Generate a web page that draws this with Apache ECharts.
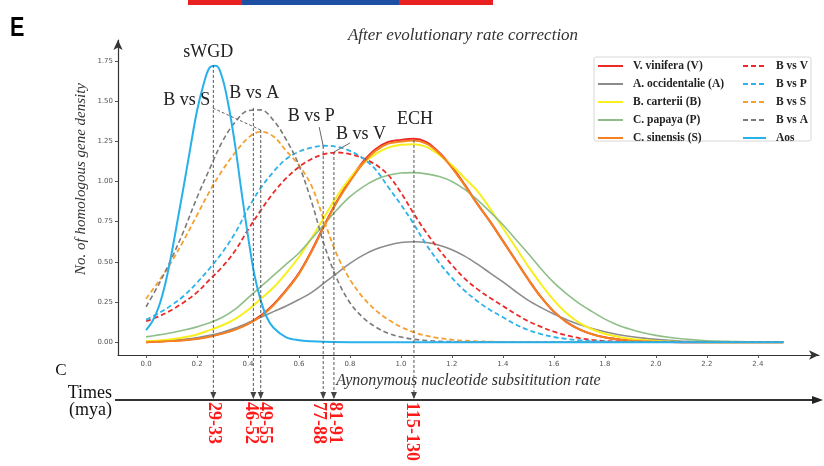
<!DOCTYPE html>
<html><head><meta charset="utf-8">
<script src="https://cdn.jsdelivr.net/npm/echarts@6/dist/echarts.min.js"></script>
<style>html,body{margin:0;padding:0;background:#fff}#c{width:824px;height:466px}</style>
</head><body><div id="c"></div>
<script>
const xs = [0,0.05,0.1,0.15,0.2,0.25,0.3,0.35,0.4,0.45,0.5,0.55,0.6,0.65,0.7,0.75,0.8,0.85,0.9,0.95,1.0,1.05,1.1,1.15,1.2,1.25,1.3,1.35,1.4,1.45,1.5,1.55,1.6,1.65,1.7,1.75,1.8,1.85,1.9,1.95,2.0,2.05,2.1,2.15,2.2,2.25,2.3,2.35,2.4,2.45,2.5];
const vinifera = [0,0.004,0.008,0.014,0.022,0.036,0.055,0.08,0.115,0.165,0.235,0.325,0.43,0.57,0.73,0.88,1.01,1.12,1.2,1.245,1.258,1.265,1.245,1.18,1.09,0.98,0.86,0.75,0.63,0.51,0.39,0.28,0.19,0.125,0.08,0.05,0.03,0.018,0.01,0.005,0.003,0.001,0,0,0,0,0,0,0,0,0];
const occidentalie = [0.005,0.008,0.012,0.018,0.027,0.042,0.062,0.088,0.12,0.155,0.19,0.225,0.265,0.31,0.37,0.43,0.49,0.54,0.578,0.603,0.62,0.625,0.62,0.603,0.575,0.535,0.485,0.43,0.375,0.315,0.26,0.215,0.175,0.14,0.11,0.085,0.065,0.048,0.035,0.025,0.017,0.011,0.007,0.004,0.002,0.001,0,0,0,0,0];
const carterii = [0.005,0.01,0.018,0.03,0.048,0.075,0.105,0.145,0.2,0.27,0.34,0.43,0.53,0.65,0.78,0.91,1.02,1.11,1.17,1.21,1.228,1.232,1.215,1.165,1.1,1.02,0.94,0.83,0.71,0.59,0.47,0.36,0.26,0.18,0.12,0.08,0.052,0.034,0.021,0.013,0.008,0.004,0.002,0.001,0,0,0,0,0,0,0];
const papaya = [0.033,0.045,0.058,0.075,0.095,0.12,0.155,0.205,0.275,0.345,0.415,0.485,0.555,0.645,0.735,0.825,0.905,0.965,1.01,1.038,1.052,1.055,1.047,1.03,1.0,0.95,0.885,0.81,0.73,0.64,0.55,0.455,0.37,0.3,0.24,0.19,0.143,0.107,0.08,0.058,0.042,0.03,0.021,0.014,0.009,0.006,0.004,0.002,0.001,0,0];
const sinensis = [0,0.003,0.007,0.012,0.02,0.034,0.053,0.078,0.112,0.16,0.23,0.32,0.425,0.565,0.725,0.875,1.0,1.11,1.19,1.235,1.248,1.255,1.235,1.175,1.085,0.975,0.858,0.748,0.628,0.508,0.388,0.278,0.19,0.124,0.079,0.049,0.029,0.017,0.009,0.005,0.002,0.001,0,0,0,0,0,0,0,0,0];
const bvsV = [0.13,0.16,0.2,0.25,0.31,0.39,0.47,0.57,0.7,0.82,0.93,1.02,1.09,1.14,1.17,1.18,1.17,1.145,1.105,1.04,0.93,0.8,0.68,0.575,0.48,0.395,0.33,0.275,0.225,0.175,0.13,0.095,0.065,0.042,0.025,0.014,0.007,0.004,0.002,0.001,0,0,0,0,0,0,0,0,0,0,0];
const bvsP = [0.14,0.18,0.23,0.29,0.37,0.46,0.56,0.68,0.83,0.96,1.06,1.14,1.185,1.21,1.222,1.215,1.19,1.145,1.075,0.965,0.855,0.735,0.605,0.495,0.4,0.32,0.255,0.2,0.155,0.11,0.075,0.05,0.032,0.02,0.012,0.007,0.004,0.002,0.001,0,0,0,0,0,0,0,0,0,0,0,0];
const bvsS = [0.27,0.38,0.5,0.64,0.79,0.94,1.07,1.18,1.27,1.31,1.28,1.19,1.1,0.97,0.75,0.54,0.39,0.28,0.2,0.14,0.095,0.062,0.04,0.025,0.015,0.009,0.005,0.003,0.001,0,0,0,0,0,0,0,0,0,0,0,0,0,0,0,0,0,0,0,0,0,0];
const bvsA = [0.22,0.36,0.52,0.7,0.9,1.08,1.25,1.37,1.44,1.445,1.38,1.26,1.1,0.87,0.6,0.39,0.245,0.155,0.095,0.055,0.032,0.018,0.01,0.005,0.003,0.001,0,0,0,0,0,0,0,0,0,0,0,0,0,0,0,0,0,0,0,0,0,0,0,0,0];
// Aos is narrow: read on a finer grid
const aosX = [0,0.025,0.05,0.075,0.1,0.125,0.15,0.175,0.2,0.225,0.25,0.275,0.3,0.325,0.35,0.375,0.4,0.425,0.45,0.475,0.5,0.55,0.6,0.65,0.7,0.8,1.0,1.5,2.0,2.5];
const aos = [0.075,0.13,0.22,0.36,0.55,0.77,0.99,1.22,1.44,1.6,1.71,1.72,1.64,1.46,1.22,0.93,0.66,0.42,0.26,0.15,0.09,0.03,0.012,0.005,0.002,0,0,0,0,0];

const seriesNames = ['V. vinifera (V)','A. occidentalie (A)','B. carterii (B)','C. papaya (P)','C. sinensis (S)','B vs V','B vs P','B vs S','B vs A','Aos'];
const seriesData = [vinifera, occidentalie, carterii, papaya, sinensis, bvsV, bvsP, bvsS, bvsA, aos];
const seriesX = [xs, xs, xs, xs, xs, xs, xs, xs, xs, aosX];

const xTicks = [0,0.2,0.4,0.6,0.8,1.0,1.2,1.4,1.6,1.8,2.0,2.2,2.4];
const xTickLabels = ['0.0','0.2','0.4','0.6','0.8','1.0','1.2','1.4','1.6','1.8','2.0','2.2','2.4'];
const yTicks = [0,0.25,0.5,0.75,1.0,1.25,1.5,1.75];
const yTickLabels = ['0.00','0.25','0.50','0.75','1.00','1.25','1.50','1.75'];

const peakLabels = ['sWGD','B vs A','B vs S','B vs P','B vs V','ECH'];
const peakX = [0.264,0.421,0.45,0.695,0.737,1.051];
const peakY = [1.725,1.457,1.32,1.22,1.183,1.258];
const myaLabels = ['29-33','46-52','49-55','77-88','81-91','115-130'];

// styles
const colors = ['#ec2a2a','#8c8c8c','#f7ef1e','#8fbf88','#f58220','#ec2a2a','#2db2ea','#f5a030','#7a7a7a','#28b0ea'];
const widths = [2,1.6,2,1.6,2,1.8,1.8,1.8,1.6,2];
const dashed = [false,false,false,false,false,true,true,true,true,false];
const labelOff = [[-5,-4],[1,-6],[-74,-21],[-12,-21],[27,-9],[1,-12]];
const connectors = [null,null,{dash:true,from:[-48,-22]},{dash:false,from:[-4,-19]},{dash:false,from:[16,-9]},null];
const myaOff = [0,-3,4,-5,1,-2];

const serif = 'Liberation Serif, Times New Roman, serif';
const chart = echarts.init(document.getElementById('c'), null, {renderer:'canvas'});

function lookup(v, ticks, labels){
  let bi=0, bd=1e9;
  ticks.forEach((t,i)=>{const d=Math.abs(t-v); if(d<bd){bd=d;bi=i;}});
  return labels[bi];
}

const series = seriesNames.map((n,i)=>({
  name:n, type:'line', symbol:'none', smooth:0.35, z: 2+i,
  data: seriesX[i].map((x,j)=>[x, seriesData[i][j]]),
  lineStyle:{color:colors[i], width:widths[i], type: dashed[i]?[5,3]:'solid'},
  itemStyle:{color:colors[i]}
}));

const legendText = {fontFamily:serif, fontWeight:'bold', fontSize:11.5, color:'#222', padding:[0,0,0,5]};
const legendCommon = {orient:'vertical', top:60, padding:0, itemHeight:10, itemGap:6, textStyle:legendText, selectedMode:false, itemStyle:{opacity:0}};

chart.setOption({
  animation:false,
  backgroundColor:'#fff',
  grid:{left:118, right:5, top:40, bottom:111, containLabel:false},
  legend:[
    Object.assign({data:seriesNames.slice(0,5), left:597, itemWidth:25}, legendCommon),
    Object.assign({data:seriesNames.slice(5), left:742, itemWidth:23}, legendCommon)
  ],
  xAxis:{type:'value', min:-0.11, max:2.64,
    axisLine:{show:true, onZero:false, symbol:['none','arrow'], symbolSize:[7,10], lineStyle:{color:'#333', width:1.2}},
    axisTick:{show:true, customValues:xTicks, length:3, lineStyle:{color:'#555'}},
    axisLabel:{customValues:xTicks, formatter:v=>lookup(v,xTicks,xTickLabels), fontSize:7, color:'#555', fontFamily:'DejaVu Sans', margin:6},
    splitLine:{show:false},
    name:'Aynonymous nucleotide subsititution rate', nameLocation:'middle', nameGap:18,
    nameTextStyle:{fontFamily:serif, fontStyle:'italic', fontSize:16, color:'#333'}
  },
  yAxis:{type:'value', min:-0.08, max:1.88,
    axisLine:{show:true, onZero:false, symbol:['none','arrow'], symbolSize:[7,10], lineStyle:{color:'#333', width:1.2}},
    axisTick:{show:true, customValues:yTicks, length:3, lineStyle:{color:'#555'}},
    axisLabel:{customValues:yTicks, formatter:v=>lookup(v,yTicks,yTickLabels), fontSize:7, color:'#555', fontFamily:'DejaVu Sans', margin:5},
    splitLine:{show:false}
  },
  series: series
});

const g = [];
// top colored bar
g.push({type:'rect', shape:{x:188,y:0,width:54,height:5}, style:{fill:'#e8201f'}, silent:true});
g.push({type:'rect', shape:{x:242,y:0,width:157,height:5}, style:{fill:'#1d4fa3'}, silent:true});
g.push({type:'rect', shape:{x:399,y:0,width:94,height:5}, style:{fill:'#e8201f'}, silent:true});
// panel letter
g.push({type:'text', x:10, y:15, scaleX:0.8, style:{text:'E', font:'bold 27px "Liberation Sans", Arial, sans-serif', fill:'#000'}});
// title
g.push({type:'text', x:463, y:36, style:{text:'After evolutionary rate correction', font:'italic 17px '+serif, fill:'#333', textAlign:'center', textVerticalAlign:'middle'}});
// y axis name
g.push({type:'text', x:81, y:179, rotation:Math.PI/2, style:{text:'No. of homologous gene density', font:'italic 15px '+serif, fill:'#333', textAlign:'center', textVerticalAlign:'middle'}});
// legend frame
g.push({type:'rect', shape:{x:594,y:57,width:217,height:84,r:2}, style:{fill:'none', stroke:'#d8d8d8', lineWidth:1}, z:-1});
// C / Times / (mya)
g.push({type:'text', x:61, y:371, style:{text:'C', font:'17px '+serif, fill:'#111', textAlign:'center', textVerticalAlign:'middle'}});
g.push({type:'text', x:112, y:393, style:{text:'Times', font:'18px '+serif, fill:'#111', textAlign:'right', textVerticalAlign:'middle'}});
g.push({type:'text', x:112, y:410, style:{text:'(mya)', font:'18px '+serif, fill:'#111', textAlign:'right', textVerticalAlign:'middle'}});
// time axis line
const tY = 400;
g.push({type:'line', shape:{x1:115,y1:tY,x2:814,y2:tY}, style:{stroke:'#333', lineWidth:2}});
g.push({type:'polygon', shape:{points:[[823,tY],[812,tY-4],[812,tY+4]]}, style:{fill:'#222'}});

peakX.forEach((px,i)=>{
  const p = chart.convertToPixel({xAxisIndex:0,yAxisIndex:0},[px, peakY[i]]);
  const x = p[0], y = p[1];
  g.push({type:'line', shape:{x1:x,y1:y,x2:x,y2:tY-2}, style:{stroke:'#555', lineWidth:1, lineDash:[3,2]}, z:50});
  g.push({type:'polygon', shape:{points:[[x-3,tY-8],[x+3,tY-8],[x,tY-1]]}, style:{fill:'#444'}, z:50});
  g.push({type:'text', x:x+labelOff[i][0], y:y+labelOff[i][1], style:{text:peakLabels[i], font:'18px '+serif, fill:'#222', textAlign:'center', textVerticalAlign:'bottom'}, z:60});
  const c = connectors[i];
  if(c){
    g.push({type:'line', shape:{x1:x+c.from[0],y1:y+c.from[1],x2:x,y2:y}, style:{stroke:'#666', lineWidth:1, lineDash:c.dash?[3,2]:null}, z:50});
  }
  g.push({type:'text', x:x+myaOff[i], y:tY+2, rotation:-Math.PI/2, style:{text:myaLabels[i], font:'bold 18px '+serif, fill:'#ff1a1a', textAlign:'left', textVerticalAlign:'middle'}, z:60});
});

chart.setOption({graphic:g});
</script>
</body></html>
